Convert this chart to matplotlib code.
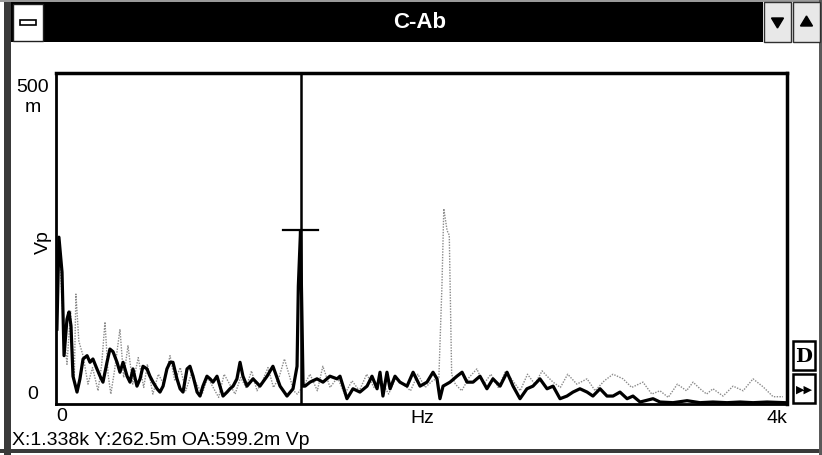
import matplotlib.pyplot as plt
from matplotlib.patches import Rectangle, Polygon

# spectrum traces, Hz vs mVp
black_hz = [5, 16, 33, 44, 60, 71, 82, 93, 115, 131, 148, 170, 186, 202, 224, 241, 257, 279,
            295, 312, 334, 350, 367, 389, 405, 421, 443, 460, 476, 498, 514, 531, 553, 569,
            586, 607, 624, 640, 662, 679, 695, 717, 733, 750, 772, 788, 804, 826, 843, 859,
            881, 897, 914, 936, 952, 969, 990, 1007, 1023, 1045, 1078, 1116, 1155, 1187,
            1226, 1264, 1297, 1319, 1326, 1338, 1346, 1352, 1363, 1390, 1428, 1461, 1499,
            1538, 1554, 1592, 1625, 1663, 1702, 1729, 1757, 1773, 1789, 1811, 1828, 1855,
            1882, 1921, 1954, 1992, 2030, 2063, 2085, 2101, 2118, 2156, 2194, 2222, 2249,
            2282, 2320, 2358, 2391, 2430, 2468, 2501, 2539, 2577, 2610, 2648, 2687, 2720,
            2758, 2796, 2829, 2867, 2906, 2938, 2977, 3015, 3048, 3086, 3125, 3157, 3196,
            3267, 3305, 3376, 3453, 3524, 3595, 3672, 3743, 3814, 3891, 3989]
black_mv = [113, 252, 199, 73, 128, 139, 118, 42, 18, 38, 68, 73, 63, 68, 53, 42, 33, 63,
            83, 79, 63, 48, 63, 42, 33, 53, 27, 38, 57, 53, 42, 33, 23, 18,
            27, 53, 63, 63, 38, 23, 18, 53, 57, 42, 18, 12, 27, 42, 38, 33,
            42, 27, 12, 18, 23, 27, 38, 63, 42, 27, 38, 27, 42, 57,
            27, 12, 23, 57, 178, 262, 128, 27, 27, 33, 38, 33, 42,
            38, 42, 8, 23, 18, 27, 42, 23, 48, 12, 48, 23, 42,
            33, 27, 48, 27, 33, 48, 38, 8, 27, 33, 42, 48, 33,
            33, 42, 23, 38, 27, 48, 27, 8, 23, 27, 38, 23, 27,
            8, 12, 18, 23, 18, 12, 23, 12, 12, 18, 8, 12, 3,
            8, 3, 2, 5, 2, 3, 2, 3, 2, 3, 2]

gray_hz = [0, 20, 40, 60, 80, 100, 109, 125, 148, 175, 200, 230, 250, 268, 285, 300, 320,
           350, 370, 394, 420, 450, 480, 500, 530, 560, 590, 624, 650, 680, 710, 740, 770,
           800, 830, 860, 890, 920, 950, 980, 1010, 1040, 1070, 1100, 1130, 1160, 1190,
           1220, 1250, 1280, 1300, 1320, 1360, 1390, 1430, 1460, 1500, 1540, 1580, 1620,
           1660, 1700, 1740, 1780, 1820, 1860, 1900, 1940, 1980, 2020, 2060, 2095, 2112,
           2122, 2140, 2152, 2165, 2185, 2220, 2260, 2303, 2340, 2380, 2420, 2460, 2500,
           2540, 2580, 2620, 2660, 2687, 2720, 2760, 2800, 2850, 2906, 2950, 3000, 3048,
           3103, 3150, 3212, 3260, 3305, 3350, 3400, 3450, 3486, 3524, 3560, 3595, 3650,
           3705, 3760, 3814, 3869, 3924, 3978]
gray_mv = [150, 225, 120, 60, 140, 40, 166, 95, 73, 30, 55, 20, 60, 124, 45, 15, 50,
           113, 40, 88, 30, 70, 25, 60, 15, 45, 30, 73, 35, 55, 20, 45, 30,
           15, 40, 25, 10, 45, 30, 15, 40, 25, 50, 20, 35, 55, 25,
           40, 68, 40, 20, 15, 30, 45, 20, 57, 25, 40, 15, 35,
           20, 45, 25, 35, 15, 40, 30, 20, 45, 25, 35, 40, 180,
           295, 262, 255, 45, 30, 20, 40, 53, 30, 45, 25, 50, 35,
           20, 45, 30, 50, 42, 33, 25, 45, 30, 38, 20, 35, 45,
           38, 25, 33, 15, 20, 10, 30, 20, 33, 23, 15, 23, 12,
           27, 20, 38, 26, 11, 11]

cursor_hz = 1338
cursor_mv = 262.5
status = "X:1.338k Y:262.5m OA:599.2m Vp"

W, H = 822, 456
fig = plt.figure(figsize=(W / 100, H / 100), dpi=100)
fnt = ['Liberation Sans', 'DejaVu Sans']

# window chrome in pixel coords
bg = fig.add_axes([0, 0, 1, 1])
bg.set_xlim(0, W)
bg.set_ylim(H, 0)
bg.axis('off')
bg.add_patch(Rectangle((0, 0), W, H, fc='white', ec='none'))
bg.add_patch(Rectangle((4, 0), 7, H, fc='#3a3a3a', ec='none'))
bg.add_patch(Rectangle((0, 0), W, 3, fc='#9a9a9a', ec='none'))
bg.add_patch(Rectangle((0, 450), W, 4, fc='#3a3a3a', ec='none'))
bg.add_patch(Rectangle((819, 0), 3, H, fc='#5a5a5a', ec='none'))
bg.add_patch(Rectangle((11, 3), 752, 40, fc='black', ec='none'))
# system menu box
bg.add_patch(Rectangle((13, 5), 30, 37, fc='white', ec='#202020', lw=1))
bg.add_patch(Rectangle((20, 21), 16, 5, fc='white', ec='black', lw=1.2))
# min / max buttons
for bx, up in [(764, False), (793, True)]:
    bg.add_patch(Rectangle((bx, 3), 27, 40, fc='#e8e8e8', ec='#303030', lw=1))
    cx = bx + 13.5
    if up:
        tri = [(cx - 6, 27), (cx + 6, 27), (cx, 17)]
    else:
        tri = [(cx - 6, 19), (cx + 6, 19), (cx, 29)]
    bg.add_patch(Polygon(tri, closed=True, fc='black', ec='black'))
bg.text(420, 23, "C-Ab", color='white', fontsize=16, fontweight='bold',
        family=fnt, ha='center', va='center')

# D and >> buttons
for by in [342, 375]:
    bg.add_patch(Rectangle((793, by), 22, 29, fc='white', ec='black', lw=1.8))
bg.text(804, 357, "D", fontsize=14, fontweight='bold', family=['DejaVu Serif'],
        ha='center', va='center')
bg.text(804, 390, "\u25b6\u25b6", fontsize=8, family=['DejaVu Sans'],
        ha='center', va='center')

# axis labels
bg.text(33, 88, "500", fontsize=14, family=fnt, ha='center', va='center')
bg.text(33, 108, "m", fontsize=14, family=fnt, ha='center', va='center')
bg.text(43, 242, "Vp", fontsize=14, family=fnt, ha='center', va='center', rotation=90)
bg.text(33, 395, "0", fontsize=14, family=fnt, ha='center', va='center')
bg.text(62, 417, "0", fontsize=14, family=fnt, ha='center', va='center')
bg.text(422, 419, "Hz", fontsize=14, family=fnt, ha='center', va='center')
bg.text(777, 419, "4k", fontsize=14, family=fnt, ha='center', va='center')
bg.text(12, 441, status, fontsize=14, family=fnt, ha='left', va='center')

# the spectrum itself
ax = fig.add_axes([56 / W, 1 - 405 / H, (787 - 56) / W, (405 - 74) / H])
ax.plot(gray_hz, gray_mv, color='#8a8a8a', lw=1.0, ls=(0, (1, 1)))
ax.plot(black_hz, black_mv, color='black', lw=2.3)
ax.axvline(cursor_hz, color='black', lw=1.8)
ax.plot([cursor_hz - 95, cursor_hz + 95], [cursor_mv, cursor_mv], color='black', lw=1.6)
ax.set_xlim(0, 4000)
ax.set_ylim(0, 500)
ax.set_xticks([])
ax.set_yticks([])
for side in ['left', 'bottom']:
    ax.spines[side].set_linewidth(2.0)
for side in ['top', 'right']:
    ax.spines[side].set_linewidth(2.5)

fig.savefig('out.png', dpi=100)
